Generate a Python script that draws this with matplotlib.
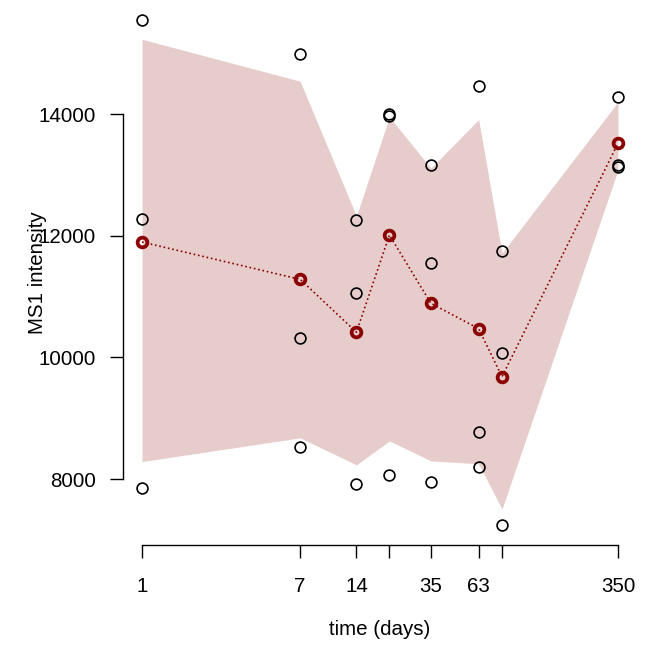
import matplotlib
matplotlib.use("Agg")
import matplotlib.pyplot as plt
import numpy as np

plt.rcParams['font.family'] = ['Liberation Sans', 'DejaVu Sans']

# 时间点（天）
days = [1, 7, 14, 21, 35, 63, 84, 350]
tick_labels = ['1', '7', '14', '', '35', '63', '', '350']

# 每个时间点的三个重复测量
rep1 = [15545, 14997, 12257, 14000, 13162, 14460, 11749, 14279]
rep2 = [12275, 10320, 11054, 13970, 11552, 8770, 10068, 13167]
rep3 = [7855, 8529, 7926, 8069, 7959, 8195, 7241, 13124]

# 均值
means = [11897, 11284, 10414, 12012, 10890, 10473, 9683, 13519]

# 阴影带上下界
band_hi = [15232, 14542, 12324, 13956, 13113, 13912, 11716, 14200]
band_lo = [8287, 8677, 8233, 8627, 8299, 8250, 7506, 13080]


def draw_chart(png_name: str):
    fig = plt.figure(figsize=(6.55, 6.56), dpi=100)
    ax = fig.add_axes([0.1878, 0.1686, 0.7847, 0.8314])
    ax.set_xscale('log')

    # 阴影带
    ax.fill_between(days, band_lo, band_hi, color='darkred', alpha=0.2,
                    linewidth=0, zorder=1)

    # 原始数据点
    for rep in (rep1, rep2, rep3):
        ax.plot(days, rep, 'o', mfc='none', mec='black', ms=7.8, mew=1.2,
                zorder=2)

    # 均值折线
    ax.plot(days, means, ':', color='darkred', lw=1.2, zorder=3)
    ax.plot(days, means, 'o', mfc='none', mec='darkred', ms=7.0, mew=2.7,
            zorder=4)

    lx = np.log10(days[0]), np.log10(days[-1])
    pad = 0.04 * (lx[1] - lx[0])
    ax.set_xlim(10 ** (lx[0] - pad), 10 ** (lx[1] + pad))
    allv = rep1 + rep2 + rep3
    rng = max(allv) - min(allv)
    ax.set_ylim(min(allv) - 0.04 * rng, max(allv) + 0.04 * rng)

    # 坐标轴样式（类似R基础绘图）
    for s in ('top', 'right'):
        ax.spines[s].set_visible(False)
    ax.spines['left'].set_bounds(8000, 14000)
    ax.spines['bottom'].set_bounds(days[0], days[-1])
    ax.spines['left'].set_linewidth(1.0)
    ax.spines['bottom'].set_linewidth(1.0)

    ax.set_yticks([8000, 10000, 12000, 14000])
    ax.set_yticklabels(['8000', '10000', '12000', '14000'])
    ax.set_xticks(days)
    ax.set_xticklabels(tick_labels)
    ax.minorticks_off()
    ax.tick_params(axis='y', length=9.4, width=1.0, pad=10, labelsize=14.8)
    ax.tick_params(axis='x', length=9.4, width=1.0, pad=13, labelsize=14.8)

    ax.set_xlabel('time (days)', fontsize=14.8)
    ax.set_ylabel('MS1 intensity', fontsize=14.8)
    ax.xaxis.set_label_coords(0.5, -0.137)
    ax.yaxis.set_label_coords(-0.148, 0.5)

    plt.savefig(png_name, dpi=100)


draw_chart('out.png')
